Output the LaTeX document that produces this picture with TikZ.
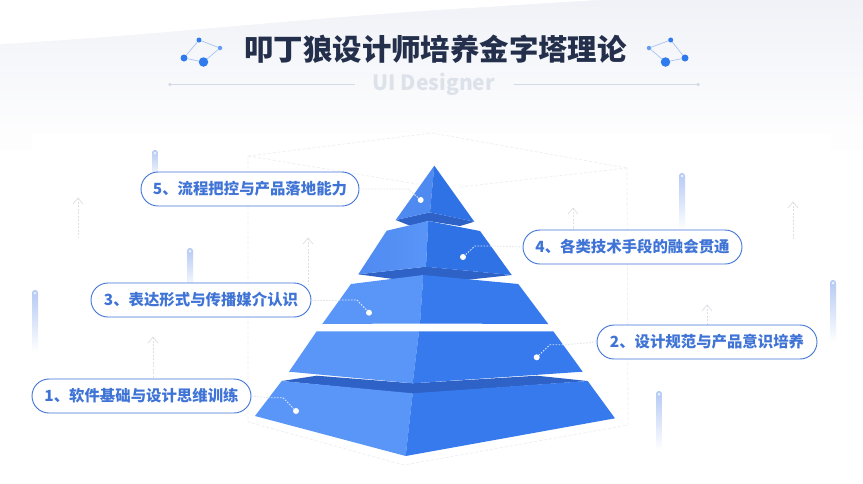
\documentclass[tikz,border=0pt]{standalone}
\usepackage{fontspec}
\setmainfont{Noto Sans CJK SC}
\definecolor{pillblue}{HTML}{3F74D6}
\definecolor{lface}{HTML}{5A96F8}
\definecolor{lfaceb}{HTML}{4E8AF0}
\definecolor{rface}{HTML}{367AEE}
\definecolor{rfaceb}{HTML}{2F72E6}
\definecolor{under}{HTML}{2F62C6}
\definecolor{titlec}{HTML}{232F4B}
\definecolor{wire}{HTML}{EEF0F4}
\definecolor{arrowc}{HTML}{DCDFE4}
\definecolor{bandc}{HTML}{F0F2F7}
\definecolor{bandend}{HTML}{FDFDFE}
\definecolor{barc}{HTML}{B4C9F4}
\definecolor{dotc}{HTML}{2F7BEE}
\definecolor{linkc}{HTML}{A9C4F2}
\definecolor{leadc}{HTML}{E3E6EB}
\definecolor{rulec}{HTML}{D5DAE3}
\definecolor{subc}{HTML}{DDE2EA}
\tikzset{
  pill/.style={draw=pillblue,line width=0.9pt,fill=white,rounded corners=17pt,minimum height=34pt,inner sep=0pt,text=pillblue,font=\bfseries\fontsize{15.4}{15.4}\selectfont},
  wireline/.style={draw=wire,line width=0.8pt,dash pattern=on 3pt off 2pt},
  uparrow/.style={draw=arrowc,line width=0.7pt,dash pattern=on 2pt off 1.5pt},
  arrowhead/.style={draw=arrowc,line width=0.7pt},
  leadout/.style={draw=leadc,line width=0.9pt,dash pattern=on 1.5pt off 1.5pt},
  leadin/.style={draw=white!85!rface,line width=0.9pt,dash pattern=on 1.5pt off 1.5pt},
  whitedot/.style={circle,fill=white,inner sep=0pt,minimum size=6pt},
  netdot/.style={circle,fill=dotc,inner sep=0pt},
  netlink/.style={draw=linkc,line width=0.7pt},
  capsule/.style={rounded corners=2.8pt,top color=barc,bottom color=white,draw=none},
  capdot/.style={circle,fill=white!75!barc,inner sep=0pt,minimum size=3pt},
}
\newcommand{\capbar}[3]{%
  \path[capsule] (#1-3,#2) rectangle (#1+3,#3);
  \node[capdot] at (#1,#2+3) {};}
\newcommand{\uparr}[3]{%
  \draw[uparrow] (#1,#2) -- (#1,#3);
  \draw[arrowhead] (#1-5,#2+6) -- (#1,#2) -- (#1+5,#2+6);}
\begin{document}
\begin{tikzpicture}[x=1pt,y=-1pt]
\useasboundingbox (0,0) rectangle (863,483);
% background
\fill[white] (0,0) rectangle (863,483);
\shade[top color=bandc,bottom color=bandend] (0,0) rectangle (863,132);
\fill[white] (0,0) -- (0,44) .. controls (150,36) and (300,18) .. (470,8) .. controls (520,5) and (560,2) .. (600,0) -- cycle;
\fill[bandend] (0,132) rectangle (32,150);
\fill[bandend] (831,132) rectangle (863,150);
% wire box
\draw[wireline] (248,156) -- (432,133) -- (627,168);
\draw[wireline] (248,156) -- (417,184);
\draw[wireline] (627,168) -- (460,187);
\draw[wireline] (248,156) -- (248,422) -- (404,465) -- (628,425) -- (627,168);
% capsules
\capbar{155}{150}{180}
\capbar{190}{248}{290}
\capbar{35}{290}{352}
\capbar{682}{173}{230}
\capbar{833}{280}{342}
\capbar{659}{391}{450}
% arrows
\uparr{78}{198}{238}
\uparr{153}{337}{379}
\uparr{308}{238}{284}
\uparr{573}{208}{231}
\uparr{793}{202}{240}
\uparr{707}{305}{326}
% title block
\node[text=titlec,font=\bfseries\fontsize{29.4}{29.4}\selectfont,inner sep=0pt] (title) at (435.5,49) {叩丁狼设计师培养金字塔理论};
\node[text=subc,font=\bfseries\fontsize{21}{21}\selectfont,inner sep=0pt] (sub) at (434,84) {UI Designer};
\coordinate (rl1) at (170,84.5); \coordinate (rl2) at (355,84.5);
\coordinate (rr1) at (514,84.5); \coordinate (rr2) at (698,84.5);
\draw[rulec,line width=0.8pt] (rl1) -- (rl2);
\draw[rulec,line width=0.8pt] (rr1) -- (rr2);
\fill[rulec] (rl1) circle (1.8pt) (rr2) circle (1.8pt);
% net icons
\node[netdot,minimum size=5pt] (a1) at (199,40) {};
\node[netdot,minimum size=4.5pt,fill=dotc!75] (a2) at (220,48) {};
\node[netdot,minimum size=9.5pt] (a3) at (203.5,62) {};
\node[netdot,minimum size=7pt] (a4) at (184,58) {};
\draw[netlink] (a1) -- (a2) -- (a3) -- (a4) -- (a1);
\node[netdot,minimum size=5pt] (b1) at (670.7,40) {};
\node[netdot,minimum size=4.5pt,fill=dotc!75] (b2) at (649,48) {};
\node[netdot,minimum size=9.5pt] (b3) at (665.5,62) {};
\node[netdot,minimum size=7pt] (b4) at (685,58) {};
\draw[netlink] (b1) -- (b2) -- (b3) -- (b4) -- (b1);
% pyramid
\fill[under] (281.7,381) -- (316.7,375.7) -- (412.7,383.3) -- (536.7,375.7) -- (587.7,381) -- (412.7,394) -- cycle;
\fill[lface] (281.7,381) -- (412.7,393.3) -- (405.7,456) -- (255,416) -- cycle;
\fill[rface] (412.7,393.3) -- (587.7,381) -- (615,418.3) -- (405.7,456) -- cycle;
\fill[lface] (316.7,331.3) -- (419,331.3) -- (412.7,383.3) -- (289,371.7) -- cycle;
\fill[rface] (419,331.3) -- (553.3,331.3) -- (582.7,371.7) -- (412.7,383.3) -- cycle;
\fill[under] (358.3,274.3) -- (426,266.7) -- (511.7,275) -- (470,279.5) -- (423.3,282) -- (397,279.5) -- cycle;
\fill[lface] (351,284) -- (423.3,275) -- (420,323.5) -- (322.3,324) -- cycle;
\fill[rface] (423.3,275) -- (518.3,284) -- (548.3,324) -- (420,323.5) -- cycle;
\fill[under] (395.7,220) -- (430,212.3) -- (474.3,221.7) -- (460,226) -- (428.3,221) -- (410,225.7) -- cycle;
\shade[left color=lfaceb,right color=lface] (386.7,230.7) -- (428.3,221) -- (426,266.7) -- (358.3,274.3) -- cycle;
\fill[rfaceb] (428.3,221) -- (480,231) -- (511.7,275) -- (426,266.7) -- cycle;
\fill[lfaceb] (434.3,165.7) -- (430,212.3) -- (395.7,220) -- cycle;
\fill[rfaceb] (434.3,165.7) -- (474.3,221.7) -- (430,212.3) -- cycle;
% pills
\node[pill,minimum width=218pt] (p5) at (250,189) {5、流程把控与产品落地能力};
\node[pill,minimum width=220pt] (p3) at (201,300) {3、表达形式与传播媒介认识};
\node[pill,minimum width=219pt] (p1) at (141.5,396) {1、软件基础与设计思维训练};
\node[pill,minimum width=219pt] (p4) at (632.5,247) {4、各类技术手段的融会贯通};
\node[pill,minimum width=220pt] (p2) at (707,342) {2、设计规范与产品意识培养};
% dots and leaders
\node[whitedot] (d5) at (420.7,200) {};
\node[whitedot] (d4) at (463,257) {};
\node[whitedot] (d3) at (369,312.7) {};
\node[whitedot] (d2) at (536.7,357.3) {};
\node[whitedot] (d1) at (296,411) {};
\coordinate (b5) at (408,189);
\coordinate (e4) at (494,246); \coordinate (b4x) at (475,246);
\coordinate (e3) at (339,300); \coordinate (b3x) at (357,300);
\coordinate (e2) at (566,344.7); \coordinate (b2x) at (550,344.7);
\coordinate (e1) at (268,397.7); \coordinate (b1x) at (283,397.7);
\draw[leadout] (p5.east) -- (b5) -- (d5);
\draw[leadout] (p4.west) -- (e4); \draw[leadin] (e4) -- (b4x) -- (d4);
\draw[leadout] (p3.east) -- (e3); \draw[leadin] (e3) -- (b3x) -- (d3);
\draw[leadout] (p2.west) -- (e2); \draw[leadin] (e2) -- (b2x) -- (d2);
\draw[leadout] (p1.east) -- (e1); \draw[leadin] (e1) -- (b1x) -- (d1);
\end{tikzpicture}
\end{document}
